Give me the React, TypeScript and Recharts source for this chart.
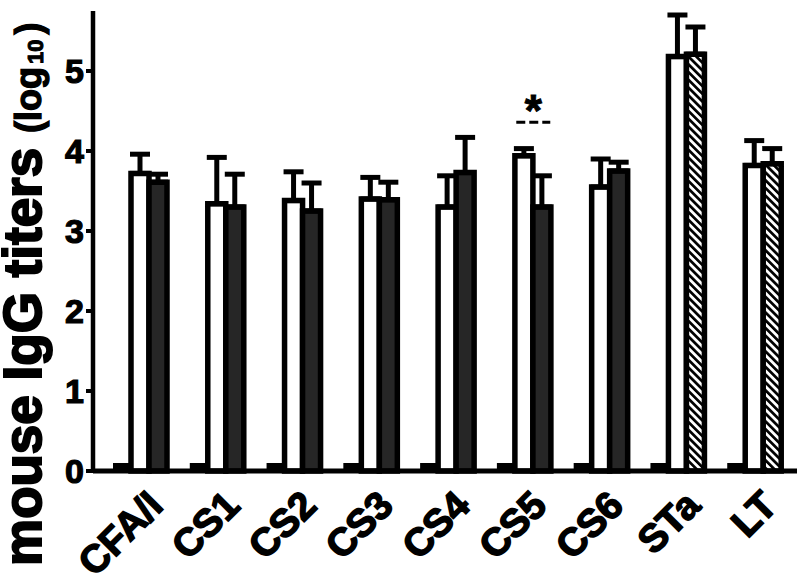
import React from 'react';
import { BarChart, Bar, XAxis, YAxis, ErrorBar, Cell, ReferenceDot } from 'recharts';

const categories = ['CFA/I', 'CS1', 'CS2', 'CS3', 'CS4', 'CS5', 'CS6', 'STa', 'LT'];
const controlValues = [0.1, 0.1, 0.1, 0.1, 0.1, 0.1, 0.1, 0.1, 0.1];
const whiteValues = [3.72, 3.34, 3.38, 3.4, 3.3, 3.94, 3.55, 5.18, 3.82];
const whiteErrors = [0.24, 0.58, 0.36, 0.27, 0.39, 0.09, 0.35, 0.52, 0.31];
const darkValues = [3.61, 3.3, 3.25, 3.39, 3.73, 3.3, 3.75, 5.21, 3.84];
const darkErrors = [0.1, 0.41, 0.35, 0.22, 0.44, 0.39, 0.11, 0.34, 0.19];
const hatchedCategories = ['STa', 'LT'];
const yTicks = [0, 1, 2, 3, 4, 5];
const significantCategory = 'CS5';
const significanceLevel = 4.36;

const FONT = '"Liberation Sans", Arial, Helvetica, sans-serif';
const BAR = 18;

const data = categories.map((name, i) => ({
  name,
  control: controlValues[i],
  white: whiteValues[i],
  whiteErr: [0, whiteErrors[i]],
  dark: darkValues[i],
  darkErr: [0, darkErrors[i]],
}));

const YLabel = () => (
  <g transform="translate(41, 566) rotate(-90)">
    <text x={0} y={0} fontFamily={FONT} fontWeight="bold" fill="#000" stroke="#000" strokeWidth={2}>
      <tspan fontSize={53}>mouse IgG titers </tspan>
      <tspan fontSize={36} strokeWidth={1.3}>(log</tspan>
      <tspan fontSize={22} dx={3} dy={2} strokeWidth={1}>10</tspan>
      <tspan fontSize={36} dx={5} dy={-2} strokeWidth={1.3}>)</tspan>
    </text>
  </g>
);

const SigMark = (props: any) => {
  const { cx, cy } = props;
  const c = cx + BAR / 2;
  return (
    <g>
      <line x1={c - 17} x2={c + 17} y1={cy} y2={cy} stroke="#000" strokeWidth={3} strokeDasharray="9 4" />
      <text x={c} y={cy + 4} textAnchor="middle" fontFamily={FONT} fontWeight="bold" fontSize={44} fill="#000" stroke="#000" strokeWidth={1}>
        *
      </text>
    </g>
  );
};

export default function App() {
  return (
    <div style={{ position: 'absolute', left: 0, top: 0, width: 800, height: 582, background: '#fff' }}>
      <svg width={0} height={0} style={{ position: 'absolute' }}>
        <defs>
          <pattern id="hatch" patternUnits="userSpaceOnUse" width={5.5} height={5.5} patternTransform="rotate(-45)">
            <rect x={0} y={0} width={5.5} height={5.5} fill="#fff" />
            <rect x={0} y={0} width={2.7} height={5.5} fill="#000" />
          </pattern>
        </defs>
      </svg>
      <BarChart
        width={800}
        height={582}
        data={data}
        margin={{ top: 11, right: 3, bottom: 0, left: 0 }}
        barGap={0}
        barSize={BAR}
      >
        <XAxis
          dataKey="name"
          height={111}
          axisLine={{ stroke: '#000', strokeWidth: 5 }}
          tickLine={false}
          tickSize={0}
          tickMargin={0}
          padding={{ left: 9, right: 4 }}
          angle={-45}
          tick={{
            textAnchor: 'end',
            fontSize: 39,
            fontWeight: 'bold',
            fontFamily: FONT,
            fill: '#000',
            stroke: '#000',
            strokeWidth: 1.5,
            dx: 5,
            dy: 17,
          }}
          interval={0}
        />
        <YAxis
          width={93}
          domain={[0, 5.75]}
          ticks={yTicks}
          axisLine={{ stroke: '#000', strokeWidth: 4.5 }}
          tickLine={{ stroke: '#000', strokeWidth: 4 }}
          tickSize={7}
          tickMargin={2}
          tick={{ fill: '#000', stroke: '#000', strokeWidth: 1.2, fontSize: 34, fontWeight: 'bold', fontFamily: FONT }}
          label={{ content: () => <YLabel /> }}
        />
        <Bar dataKey="control" fill="#000" isAnimationActive={false} />
        <Bar dataKey="white" fill="#fff" stroke="#000" strokeWidth={5.5} isAnimationActive={false}>
          <ErrorBar dataKey="whiteErr" direction="y" width={10} stroke="#000" strokeWidth={5} />
        </Bar>
        <Bar dataKey="dark" fill="#262626" stroke="#000" strokeWidth={5.5} isAnimationActive={false}>
          {data.map((d) => (
            <Cell key={d.name} fill={hatchedCategories.includes(d.name) ? 'url(#hatch)' : '#262626'} />
          ))}
          <ErrorBar dataKey="darkErr" direction="y" width={10} stroke="#000" strokeWidth={5} />
        </Bar>
        <ReferenceDot
          x={significantCategory}
          y={significanceLevel}
          ifOverflow="visible"
          shape={(p: any) => <SigMark {...p} />}
        />
      </BarChart>
    </div>
  );
}
